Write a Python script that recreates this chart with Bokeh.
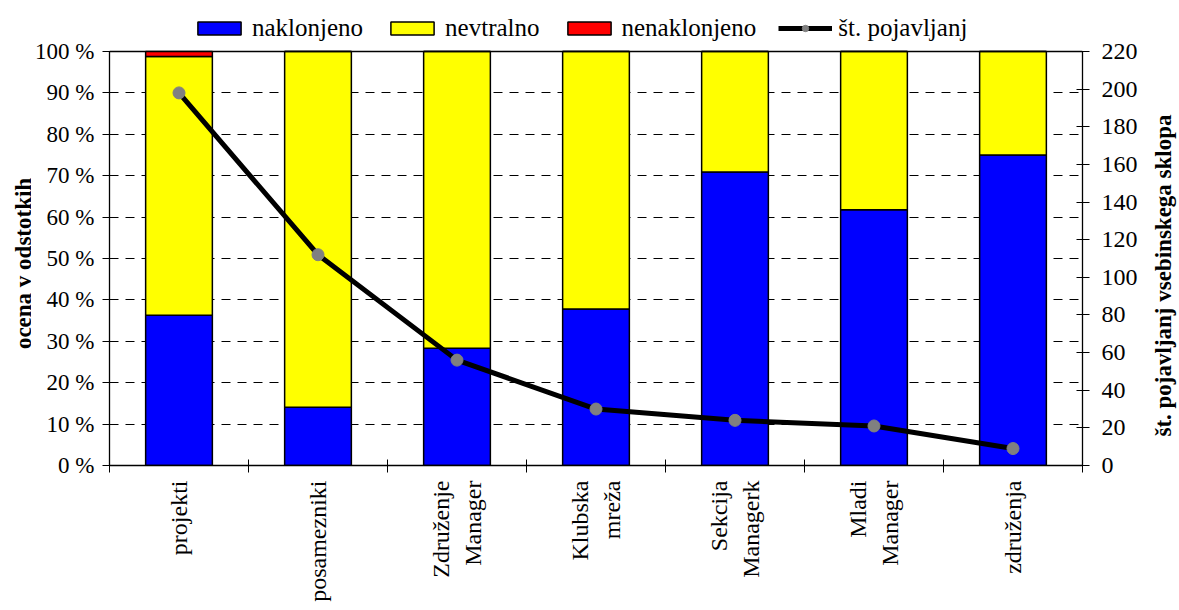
import math
from bokeh.plotting import figure
from bokeh.layouts import row
from bokeh.models import (ColumnDataSource, Range1d, LinearAxis, FixedTicker,
                          Legend, LegendItem, Grid, Label)
from bokeh.embed import file_html
from bokeh.resources import INLINE

categories = ["projekti", "posamezniki", "Združenje\nManager", "Klubska\nmreža",
              "Sekcija\nManagerk", "Mladi\nManager", "združenja"]
naklonjeno = [36.3, 14.1, 28.3, 37.8, 70.9, 61.8, 75.0]
nevtralno = [62.5, 85.9, 71.7, 62.2, 29.1, 38.2, 25.0]
nenaklonjeno = [1.2, 0.0, 0.0, 0.0, 0.0, 0.0, 0.0]
pojavljanj = [198, 112, 56, 30, 24, 21, 9]
pct_ticks = [0, 10, 20, 30, 40, 50, 60, 70, 80, 90, 100]
count_ticks = list(range(0, 221, 20))
series_names = ["naklonjeno", "nevtralno", "nenaklonjeno"]
series_colors = ["#0000ff", "#ffff00", "#ff0000"]
line_name = "št. pojavljanj"
left_title = "ocena v odstotkih"
right_title = "št. pojavljanj vsebinskega sklopa"

FONT = "Liberation Serif"
H = 610
LW, TW = 31, 38                  # strips for the two axis titles
WM = 1179 - LW - TW
B_LEFT, B_RIGHT, B_BOTTOM = 78, 59, 145
FRAME_H = H - B_BOTTOM
PLOT_TOP = 51
scale = FRAME_H / (FRAME_H - PLOT_TOP)
PCT_MAX, CNT_MAX = 100, 220

x = [i + 0.5 for i in range(len(categories))]
src = ColumnDataSource(dict(x=x, naklonjeno=naklonjeno, nevtralno=nevtralno,
                            nenaklonjeno=nenaklonjeno, cnt=pojavljanj))

p = figure(width=WM, height=H, output_backend="svg", toolbar_location=None,
           x_range=Range1d(0, len(categories)),
           y_range=Range1d(0, PCT_MAX * scale),
           min_border_left=B_LEFT, min_border_right=B_RIGHT, min_border_top=0,
           min_border_bottom=B_BOTTOM)
p.extra_y_ranges = {"cnt": Range1d(0, CNT_MAX * scale)}
p.outline_line_color = None
p.background_fill_color = "white"
p.border_fill_color = "white"

bars = p.vbar_stack(series_names, x="x", width=0.48, source=src,
                    color=series_colors, line_color="black", line_width=1.5)
ln = p.line("x", "cnt", source=src, y_range_name="cnt", line_color="black",
            line_width=5)
pts = p.scatter("x", "cnt", source=src, y_range_name="cnt", size=12,
                fill_color="#808080", line_color="#808080")

# grid
p.xgrid.visible = False
p.ygrid.ticker = FixedTicker(ticks=pct_ticks[1:-1])
p.ygrid.grid_line_color = "black"
p.ygrid.grid_line_dash = "9 7"
p.ygrid.grid_line_width = 1
top_line = Grid(dimension=1, ticker=FixedTicker(ticks=[PCT_MAX]),
                grid_line_color="black", grid_line_width=1.3)
p.add_layout(top_line)

# x axis
xa = p.xaxis[0]
xa.ticker = FixedTicker(ticks=x, minor_ticks=list(range(len(categories) + 1)))
xa.major_label_overrides = {xi: c for xi, c in zip(x, categories)}
xa.major_label_orientation = math.pi / 2
xa.major_tick_in = 0
xa.major_tick_out = 0
xa.minor_tick_in = 6
xa.minor_tick_out = 7
xa.minor_tick_line_color = "black"
xa.axis_line_color = "black"
xa.axis_line_width = 1.3
xa.major_label_text_font = FONT
xa.major_label_text_font_size = "24px"
xa.major_label_text_color = "black"
xa.major_label_standoff = 8

# left axis
ya = p.yaxis[0]
ya.ticker = FixedTicker(ticks=pct_ticks)
ya.bounds = (0, PCT_MAX)
ya.major_label_overrides = {t: f"{t} %" for t in pct_ticks}
ya.major_tick_in = 6
ya.major_tick_out = 7
ya.minor_tick_line_color = None
ya.axis_line_width = 1.3
ya.major_label_text_font = FONT
ya.major_label_text_font_size = "23px"
ya.major_label_text_color = "black"
ya.major_label_standoff = 8

# right axis
ra = LinearAxis(y_range_name="cnt", ticker=FixedTicker(ticks=count_ticks),
                bounds=(0, CNT_MAX))
ra.major_tick_in = 6
ra.major_tick_out = 7
ra.minor_tick_line_color = None
ra.axis_line_width = 1.3
ra.major_label_text_font = FONT
ra.major_label_text_font_size = "24px"
ra.major_label_text_color = "black"
ra.major_label_standoff = 12
p.add_layout(ra, "right")

legend = Legend(items=[
    LegendItem(label=series_names[0], renderers=[bars[0]]),
    LegendItem(label=series_names[1], renderers=[bars[1]]),
    LegendItem(label=series_names[2], renderers=[bars[2]]),
    LegendItem(label=line_name, renderers=[ln, pts]),
], orientation="horizontal", location=(83, FRAME_H - 42))
legend.label_text_font = FONT
legend.label_text_font_size = "25px"
legend.label_text_color = "black"
legend.glyph_width = 54
legend.glyph_height = 16
legend.spacing = 22
legend.label_standoff = 6
legend.padding = 0
legend.margin = 0
legend.border_line_color = None
legend.background_fill_alpha = 0
p.add_layout(legend, "center")


def title_strip(width, text, cx, center_top):
    # in a row the strip's frame is aligned with the chart's frame, so the
    # screen y is measured from the bottom of the plotting area
    f = figure(width=width, height=H, output_backend="svg", toolbar_location=None,
               x_range=Range1d(0, 1), y_range=Range1d(0, 1),
               x_axis_type=None, y_axis_type=None, min_border=0)
    f.outline_line_color = None
    f.background_fill_color = "white"
    f.border_fill_color = "white"
    f.add_layout(Label(x=cx, y=FRAME_H - center_top, x_units="screen",
                       y_units="screen", text=text, angle=math.pi / 2,
                       text_align="center", text_baseline="middle",
                       text_font=FONT, text_font_size="23px",
                       text_font_style="bold", text_color="black"))
    return f


lf = title_strip(LW, left_title, 23, 263)
tf = title_strip(TW, right_title, 22, 275)

layout = row(lf, p, tf, spacing=0)
open("out.html", "w").write(file_html(layout, INLINE))
